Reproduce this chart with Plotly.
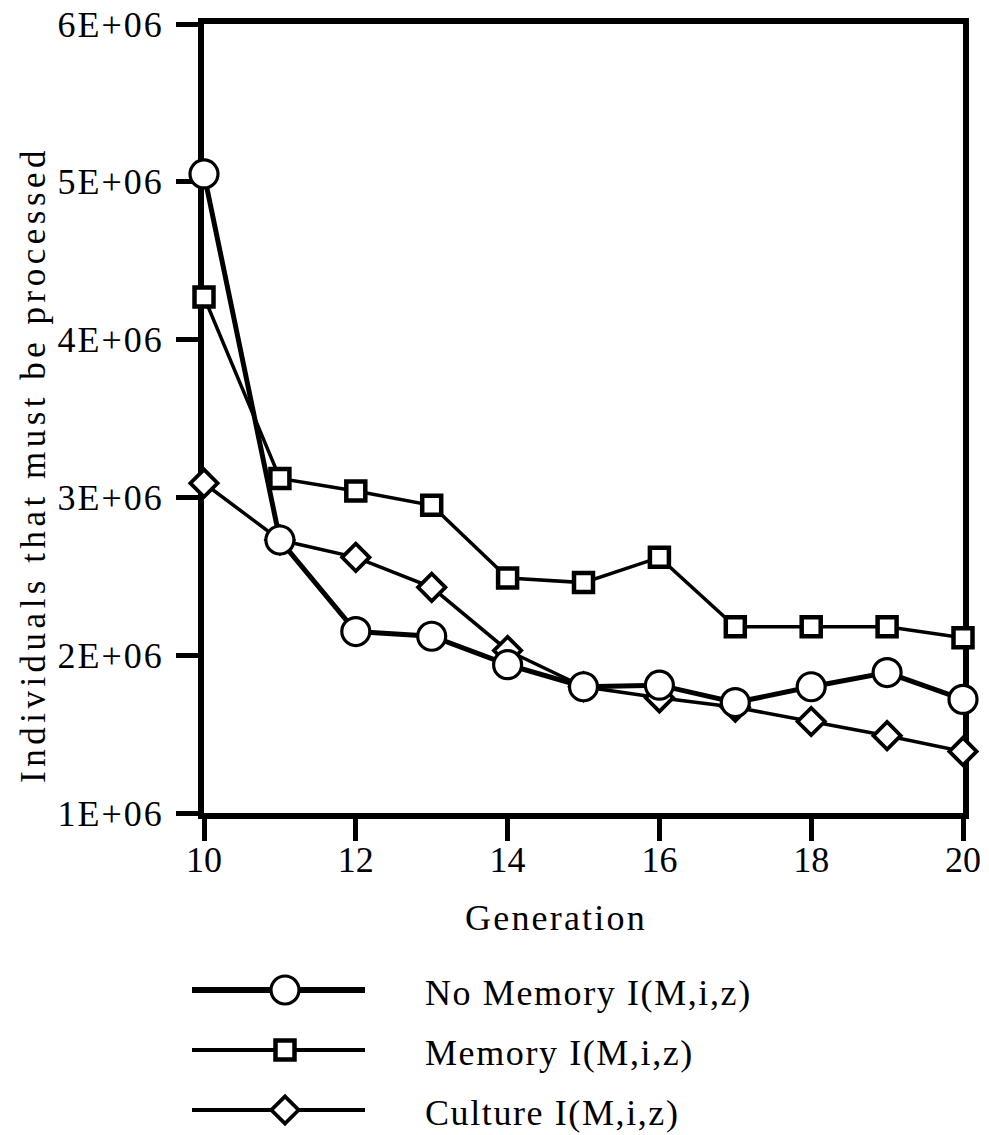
import plotly.graph_objects as go

# Generation numbers on the x axis
generation = [10, 11, 12, 13, 14, 15, 16, 17, 18, 19, 20]

# Individuals that must be processed, per series
no_memory = [5.05e6, 2.73e6, 2.15e6, 2.12e6, 1.94e6, 1.80e6, 1.81e6, 1.70e6, 1.80e6, 1.89e6, 1.72e6]
memory = [4.27e6, 3.12e6, 3.04e6, 2.95e6, 2.49e6, 2.46e6, 2.62e6, 2.18e6, 2.18e6, 2.18e6, 2.11e6]
culture = [3.09e6, 2.73e6, 2.62e6, 2.43e6, 2.03e6, 1.80e6, 1.73e6, 1.67e6, 1.58e6, 1.49e6, 1.39e6]

series_names = ["No Memory I(M,i,z)", "Memory I(M,i,z)", "Culture I(M,i,z)"]

# Axis ticks
x_ticks = [10, 12, 14, 16, 18, 20]
y_ticks = [1e6, 2e6, 3e6, 4e6, 5e6, 6e6]
y_tick_labels = ["1E+06", "2E+06", "3E+06", "4E+06", "5E+06", "6E+06"]

W, H = 989, 1135
FONT = "Liberation Serif"


def spaced(text, px):
    return f'<span style="letter-spacing:{px}px">{text}</span>'


# plot frame in pixels
left, right, top, bottom = 204, 963, 24, 813

styles = {
    series_names[0]: dict(symbol="circle", size=28, lw=3.2, line_w=5, key_w=6),
    series_names[1]: dict(symbol="square", size=19, lw=4.5, line_w=3.5, key_w=4),
    series_names[2]: dict(symbol="diamond", size=21, lw=3.8, line_w=3.5, key_w=4),
}

fig = go.Figure()

# draw order: squares, diamonds, then circles on top
for name, vals in [(series_names[1], memory), (series_names[2], culture), (series_names[0], no_memory)]:
    s = styles[name]
    fig.add_trace(go.Scatter(
        x=generation, y=vals, name=name, mode="lines+markers",
        line=dict(color="black", width=s["line_w"]),
        marker=dict(symbol=s["symbol"], size=s["size"], color="white",
                    line=dict(color="black", width=s["lw"])),
        cliponaxis=False, showlegend=False,
    ))

# legend keys drawn on an overlay axis spanning the whole page (pixel units)
key_x0, key_x1, key_mid = 192, 365, 285
key_rows = [990, 1050, 1110]
for name, row in zip(series_names, key_rows):
    s = styles[name]
    fig.add_trace(go.Scatter(
        x=[key_x0, key_x1], y=[row, row], mode="lines",
        line=dict(color="black", width=s["key_w"]),
        xaxis="x2", yaxis="y2", showlegend=False, hoverinfo="skip",
    ))
    fig.add_trace(go.Scatter(
        x=[key_mid], y=[row], mode="markers",
        marker=dict(symbol=s["symbol"], size=s["size"], color="white",
                    line=dict(color="black", width=s["lw"])),
        xaxis="x2", yaxis="y2", showlegend=False, hoverinfo="skip", cliponaxis=False,
    ))
    fig.add_annotation(
        text=spaced(name, 1.6), x=423, y=row + 3, xref="x2", yref="y2",
        xanchor="left", yanchor="middle", showarrow=False,
        font=dict(family=FONT, size=36, color="black"),
    )

axis_common = dict(
    showgrid=False, zeroline=False, showline=True, linecolor="black", linewidth=6,
    mirror=True, ticks="outside", ticklen=22, tickwidth=5, tickcolor="black",
    tickfont=dict(family=FONT, size=36, color="black"), layer="below traces",
)

fig.update_layout(
    width=W, height=H,
    margin=dict(l=0, r=0, t=0, b=0, autoexpand=False),
    paper_bgcolor="white", plot_bgcolor="rgba(0,0,0,0)",
    xaxis=dict(domain=[left / W, right / W], range=[10, 20], tickvals=x_ticks,
               ticklabelstandoff=-12, **axis_common),
    yaxis=dict(domain=[1 - bottom / H, 1 - top / H], range=[1e6, 6e6],
               tickvals=y_ticks, ticktext=[spaced(t, 2) for t in y_tick_labels],
               ticklabelstandoff=5, **axis_common),
    xaxis2=dict(domain=[0, 1], range=[0, W], visible=False, fixedrange=True),
    yaxis2=dict(domain=[0, 1], range=[H, 0], visible=False, fixedrange=True),
    showlegend=False,
)

# axis titles
fig.add_annotation(
    text=spaced("Generation", 2.2), x=556 / W, y=1 - 918 / H, xref="paper", yref="paper",
    xanchor="center", yanchor="middle", showarrow=False,
    font=dict(family=FONT, size=36, color="black"),
)
fig.add_annotation(
    text=spaced("Individuals that must be processed", 4.5), x=33 / W, y=1 - 465 / H,
    xref="paper", yref="paper", xanchor="center", yanchor="middle",
    textangle=-90, showarrow=False,
    font=dict(family=FONT, size=35, color="black"),
)

fig.write_html("out.html")
